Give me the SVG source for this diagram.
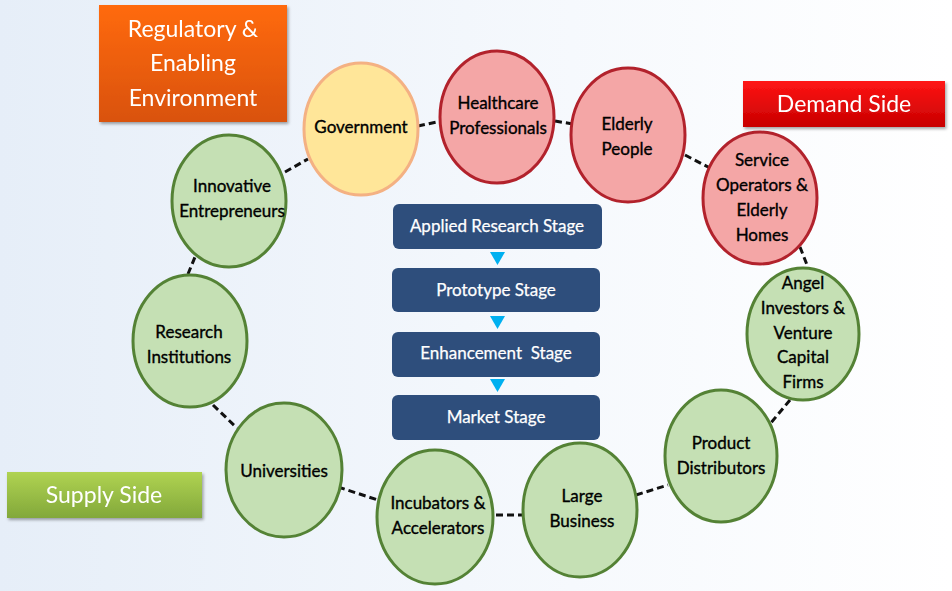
<svg xmlns="http://www.w3.org/2000/svg" width="952" height="591" viewBox="0 0 952 591">
<defs>
<linearGradient id="bg" x1="0" y1="0" x2="1" y2="0">
<stop offset="0" stop-color="#e6eef8"/>
<stop offset="0.6" stop-color="#f6f9fd"/>
<stop offset="1" stop-color="#ffffff"/>
</linearGradient>
<linearGradient id="gOrange" x1="0" y1="0" x2="0" y2="1">
<stop offset="0" stop-color="#ff6a0a"/>
<stop offset="1" stop-color="#d9520a"/>
</linearGradient>
<linearGradient id="gRed" x1="0" y1="0" x2="0" y2="1">
<stop offset="0" stop-color="#ff1515"/>
<stop offset="1" stop-color="#c80000"/>
</linearGradient>
<linearGradient id="gGreen" x1="0" y1="0" x2="0" y2="1">
<stop offset="0" stop-color="#b0d352"/>
<stop offset="1" stop-color="#82a83a"/>
</linearGradient>
<filter id="sh" x="-10%" y="-10%" width="125%" height="135%">
<feDropShadow dx="1.5" dy="2" stdDeviation="1.5" flood-color="#000" flood-opacity="0.35"/>
</filter>
</defs>
<style>
.lbl{font-family:"Lato","Liberation Sans",sans-serif;font-size:23px;fill:#ffffff;text-anchor:middle}
.nt{font-family:"Lato","Liberation Sans",sans-serif;font-size:17px;fill:#000;stroke:#000;stroke-width:0.35;text-anchor:middle}
.st{font-family:"Lato","Liberation Sans",sans-serif;font-size:17px;fill:#ffffff;stroke:#ffffff;stroke-width:0.25;text-anchor:middle;white-space:pre}
.green{fill:#c5e0b4;stroke:#548235;stroke-width:3}
.pink{fill:#f4a6a6;stroke:#b2222c;stroke-width:3}
.gov{fill:#ffe699;stroke:#f4b183;stroke-width:3}
.stage{fill:#2e4e7c}
.tri{fill:#00b0f0}
.con line{stroke:#111;stroke-width:3;stroke-dasharray:7 4;fill:none}
</style>
<rect x="0" y="0" width="952" height="591" fill="url(#bg)"/>

<g id="connectors" class="con">
<line x1="418" y1="126" x2="441" y2="121"/>
<line x1="285" y1="172" x2="308" y2="159"/>
<line x1="555" y1="121" x2="573" y2="124"/>
<line x1="685" y1="155" x2="710" y2="168"/>
<line x1="800" y1="247" x2="809" y2="270"/>
<line x1="790" y1="400" x2="770" y2="424"/>
<line x1="636" y1="495" x2="668" y2="485"/>
<line x1="496" y1="515" x2="523" y2="515"/>
<line x1="338" y1="487" x2="378" y2="500"/>
<line x1="213" y1="405" x2="237" y2="428"/>
<line x1="188" y1="274" x2="195" y2="257"/>
</g>

<g id="label-regulatory" filter="url(#sh)">
<rect x="99" y="5" width="188" height="117" fill="url(#gOrange)"/>
<text class="lbl" x="193" y="37">Regulatory &amp;</text>
<text class="lbl" x="193" y="71">Enabling</text>
<text class="lbl" x="193" y="106">Environment</text>
</g>
<g id="label-demand" filter="url(#sh)">
<rect x="743" y="81" width="202" height="46" fill="url(#gRed)"/>
<text class="lbl" x="844" y="112">Demand Side</text>
</g>
<g id="label-supply" filter="url(#sh)">
<rect x="7" y="472" width="195" height="46" fill="url(#gGreen)"/>
<text class="lbl" x="104" y="503">Supply Side</text>
</g>

<g id="n-government"><ellipse class="gov" cx="361" cy="129" rx="57" ry="66"/><text class="nt" x="361" y="133">Government</text></g>
<g id="n-healthcare"><ellipse class="pink" cx="497" cy="117" rx="57" ry="66"/><text class="nt" x="498" y="109">Healthcare</text><text class="nt" x="498" y="134">Professionals</text></g>
<g id="n-elderly"><ellipse class="pink" cx="628" cy="135" rx="57" ry="67"/><text class="nt" x="627" y="130">Elderly</text><text class="nt" x="627" y="155">People</text></g>
<g id="n-service"><ellipse class="pink" cx="760" cy="198" rx="57" ry="66"/><text class="nt" x="762" y="166">Service</text><text class="nt" x="762" y="191">Operators &amp;</text><text class="nt" x="762" y="216">Elderly</text><text class="nt" x="762" y="241">Homes</text></g>
<g id="n-angel"><ellipse class="green" cx="803" cy="334" rx="56" ry="66"/><text class="nt" x="803" y="289">Angel</text><text class="nt" x="803" y="314">Investors &amp;</text><text class="nt" x="803" y="339">Venture</text><text class="nt" x="803" y="363">Capital</text><text class="nt" x="803" y="388">Firms</text></g>
<g id="n-product"><ellipse class="green" cx="721" cy="456" rx="56" ry="66"/><text class="nt" x="721" y="449">Product</text><text class="nt" x="721" y="474">Distributors</text></g>
<g id="n-large"><ellipse class="green" cx="580" cy="510" rx="57" ry="67"/><text class="nt" x="582" y="502">Large</text><text class="nt" x="582" y="527">Business</text></g>
<g id="n-incubators"><ellipse class="green" cx="435" cy="517" rx="58" ry="67"/><text class="nt" x="438" y="509">Incubators &amp;</text><text class="nt" x="438" y="534">Accelerators</text></g>
<g id="n-universities"><ellipse class="green" cx="284" cy="470" rx="58" ry="67"/><text class="nt" x="284" y="477">Universities</text></g>
<g id="n-research"><ellipse class="green" cx="190" cy="341" rx="57" ry="66"/><text class="nt" x="189" y="338">Research</text><text class="nt" x="189" y="363">Institutions</text></g>
<g id="n-innovative"><ellipse class="green" cx="229" cy="201" rx="57" ry="66"/><text class="nt" x="232" y="192">Innovative</text><text class="nt" x="232" y="217">Entrepreneurs</text></g>

<g id="s-applied"><rect class="stage" x="393" y="204" width="209" height="45" rx="6"/><text class="st" x="497" y="232">Applied Research Stage</text></g>
<g id="s-prototype"><rect class="stage" x="392" y="268" width="208" height="44" rx="6"/><text class="st" x="496" y="296">Prototype Stage</text></g>
<g id="s-enhancement"><rect class="stage" x="392" y="332" width="208" height="45" rx="6"/><text class="st" x="496" y="359">Enhancement  Stage</text></g>
<g id="s-market"><rect class="stage" x="392" y="395" width="208" height="45" rx="6"/><text class="st" x="496" y="423">Market Stage</text></g>

<g id="flow-arrows">
<polygon class="tri" points="490,252 505,252 497.5,265"/>
<polygon class="tri" points="490,316 505,316 497.5,329"/>
<polygon class="tri" points="490,379 505,379 497.5,392"/>
</g>
</svg>
